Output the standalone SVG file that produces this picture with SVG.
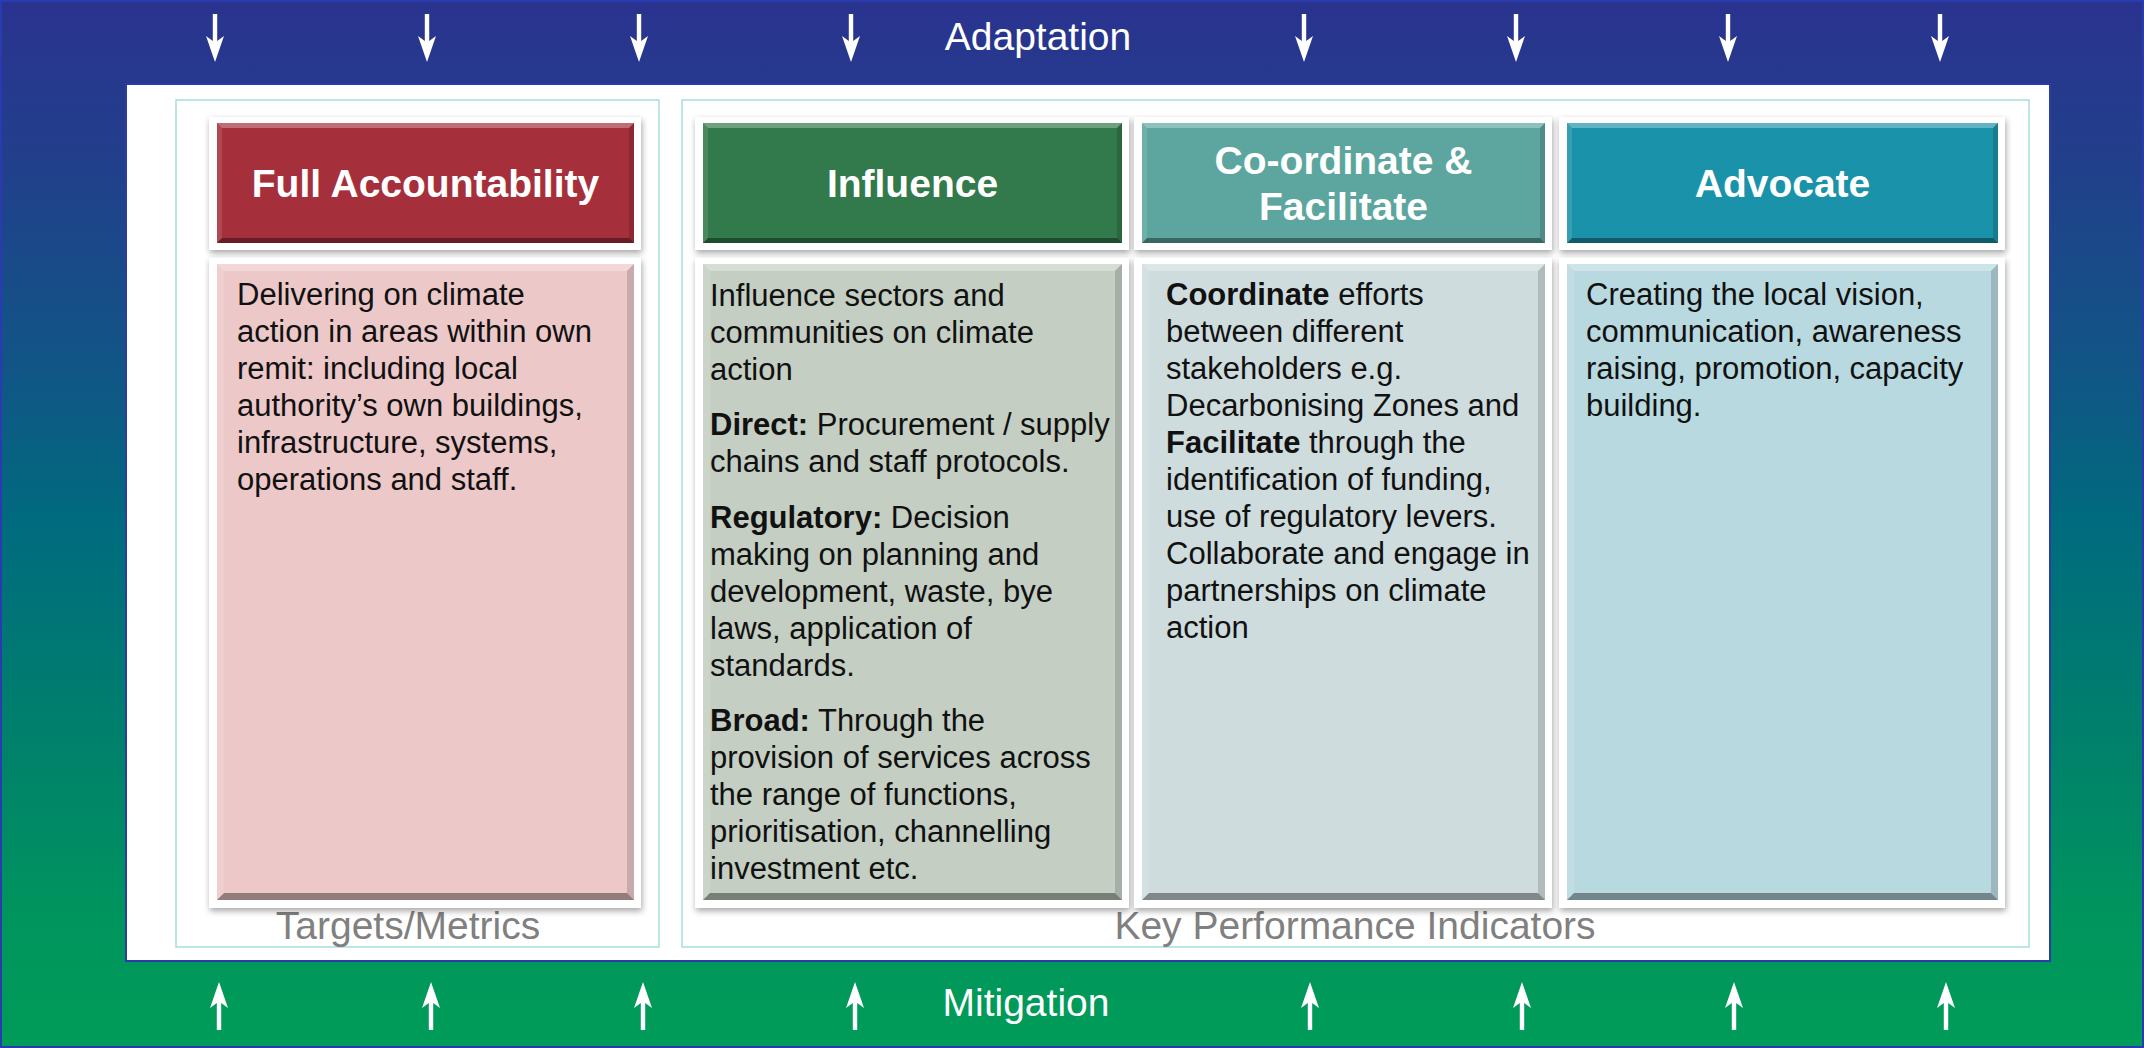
<svg xmlns="http://www.w3.org/2000/svg" xmlns:xlink="http://www.w3.org/1999/xlink" width="2144" height="1048" viewBox="0 0 2144 1048">
<defs>
  <linearGradient id="bg" x1="0" y1="0" x2="0" y2="1">
    <stop offset="0" stop-color="#2a338f"/>
    <stop offset="0.15" stop-color="#223f8b"/>
    <stop offset="0.35" stop-color="#115586"/>
    <stop offset="0.5" stop-color="#006b7e"/>
    <stop offset="0.7" stop-color="#00806c"/>
    <stop offset="0.88" stop-color="#00955d"/>
    <stop offset="1" stop-color="#009c58"/>
  </linearGradient>
  <filter id="shadow" x="-5%" y="-5%" width="110%" height="110%">
    <feDropShadow dx="1" dy="3" stdDeviation="3" flood-color="#000" flood-opacity="0.35"/>
  </filter>
  <path id="adown" d="M-2.2,0 H2.2 V27 L9,22 L0,48 L-9,22 L-2.2,27 Z" fill="#fff"/>
  <style>
    .frame{fill:#fff;filter:url(#shadow);}
    .hl{fill:#fff;opacity:.3;}
    .sh{fill:#000;opacity:.38;}
    .lf{fill:#fff;opacity:.12;}
    .rt{fill:#000;opacity:.15;}
    .hdr{font-family:"Liberation Sans",Arial,sans-serif;font-weight:bold;font-size:39px;fill:#fff;text-anchor:middle;}
    .body{font-family:"Liberation Sans",Arial,sans-serif;font-size:31px;fill:#111;}
    .b{font-weight:bold;}
    .band{font-family:"Liberation Sans",Arial,sans-serif;font-size:39px;fill:#fff;text-anchor:middle;}
    .kpi{font-family:"Liberation Sans",Arial,sans-serif;font-size:39px;fill:#808080;text-anchor:middle;}
    .tframe{fill:none;stroke:#a6dede;stroke-width:1.5;}
  </style>
</defs>

<rect x="0" y="0" width="2144" height="1048" fill="url(#bg)"/>
<rect x="1" y="1" width="2142" height="1046" fill="none" stroke="#2a3ab0" stroke-width="2"/>

<text class="band" x="1038" y="50">Adaptation</text>
<text class="band" x="1026" y="1016">Mitigation</text>

<rect x="126" y="84" width="1924" height="877" fill="#fff" stroke="#2b3ca8" stroke-width="2"/>

<rect class="tframe" x="176" y="100" width="483" height="847"/>
<rect class="tframe" x="682" y="100" width="1347" height="847"/>

<text class="kpi" x="408" y="939">Targets/Metrics</text>
<text class="kpi" x="1355" y="939">Key Performance Indicators</text>

<g id="connectors">
  <use xlink:href="#adown" x="215" y="14"/>
  <use xlink:href="#adown" x="427" y="14"/>
  <use xlink:href="#adown" x="639" y="14"/>
  <use xlink:href="#adown" x="851" y="14"/>
  <use xlink:href="#adown" x="1304" y="14"/>
  <use xlink:href="#adown" x="1516" y="14"/>
  <use xlink:href="#adown" x="1728" y="14"/>
  <use xlink:href="#adown" x="1940" y="14"/>
  <use xlink:href="#adown" transform="translate(219,1030) scale(1,-1)"/>
  <use xlink:href="#adown" transform="translate(431,1030) scale(1,-1)"/>
  <use xlink:href="#adown" transform="translate(643,1030) scale(1,-1)"/>
  <use xlink:href="#adown" transform="translate(855,1030) scale(1,-1)"/>
  <use xlink:href="#adown" transform="translate(1310,1030) scale(1,-1)"/>
  <use xlink:href="#adown" transform="translate(1522,1030) scale(1,-1)"/>
  <use xlink:href="#adown" transform="translate(1734,1030) scale(1,-1)"/>
  <use xlink:href="#adown" transform="translate(1946,1030) scale(1,-1)"/>
</g>

<!-- Headers -->
<g id="hdr-full-accountability">
  <rect class="frame" x="209" y="117" width="432" height="133"/>
  <rect x="217" y="123" width="417" height="120" fill="#a62f3c"/>
  <polygon class="hl" points="217,123 634,123 629,128 222,128"/>
  <polygon class="sh" points="217,243 634,243 629,238 222,238"/>
  <polygon class="lf" points="217,123 222,128 222,238 217,243"/>
  <polygon class="rt" points="634,123 629,128 629,238 634,243"/>
  <text class="hdr" x="425.5" y="197">Full Accountability</text>
</g>
<g id="hdr-influence">
  <rect class="frame" x="695" y="117" width="434" height="133"/>
  <rect x="703" y="123" width="419" height="120" fill="#32794b"/>
  <polygon class="hl" points="703,123 1122,123 1117,128 708,128"/>
  <polygon class="sh" points="703,243 1122,243 1117,238 708,238"/>
  <polygon class="lf" points="703,123 708,128 708,238 703,243"/>
  <polygon class="rt" points="1122,123 1117,128 1117,238 1122,243"/>
  <text class="hdr" x="912.5" y="197">Influence</text>
</g>
<g id="hdr-coordinate">
  <rect class="frame" x="1134" y="117" width="418" height="133"/>
  <rect x="1142" y="123" width="403" height="120" fill="#5ca69f"/>
  <polygon class="hl" points="1142,123 1545,123 1540,128 1147,128"/>
  <polygon class="sh" points="1142,243 1545,243 1540,238 1147,238"/>
  <polygon class="lf" points="1142,123 1147,128 1147,238 1142,243"/>
  <polygon class="rt" points="1545,123 1540,128 1540,238 1545,243"/>
  <text class="hdr" x="1343.5" y="174">Co-ordinate &amp;</text>
  <text class="hdr" x="1343.5" y="220">Facilitate</text>
</g>
<g id="hdr-advocate">
  <rect class="frame" x="1559" y="117" width="446" height="133"/>
  <rect x="1567" y="123" width="431" height="120" fill="#1a92aa"/>
  <polygon class="hl" points="1567,123 1998,123 1993,128 1572,128"/>
  <polygon class="sh" points="1567,243 1998,243 1993,238 1572,238"/>
  <polygon class="lf" points="1567,123 1572,128 1572,238 1567,243"/>
  <polygon class="rt" points="1998,123 1993,128 1993,238 1998,243"/>
  <text class="hdr" x="1782.5" y="197">Advocate</text>
</g>

<!-- Bodies -->
<g id="body-full-accountability">
  <rect class="frame" x="209" y="258" width="432" height="650"/>
  <rect x="217" y="264" width="417" height="636" fill="#ecc8c8"/>
  <polygon class="hl" points="217,264 634,264 627,271 224,271"/>
  <polygon class="sh" points="217,900 634,900 627,893 224,893"/>
  <polygon class="lf" points="217,264 224,271 224,893 217,900"/>
  <polygon class="rt" points="634,264 627,271 627,893 634,900"/>
  <text class="body">
    <tspan x="237" y="305">Delivering on climate</tspan>
    <tspan x="237" y="342">action in areas within own</tspan>
    <tspan x="237" y="379">remit: including local</tspan>
    <tspan x="237" y="416">authority’s own buildings,</tspan>
    <tspan x="237" y="453">infrastructure, systems,</tspan>
    <tspan x="237" y="490">operations and staff.</tspan>
  </text>
</g>
<g id="body-influence">
  <rect class="frame" x="695" y="258" width="434" height="650"/>
  <rect x="703" y="264" width="419" height="636" fill="#c4cec2"/>
  <polygon class="hl" points="703,264 1122,264 1115,271 710,271"/>
  <polygon class="sh" points="703,900 1122,900 1115,893 710,893"/>
  <polygon class="lf" points="703,264 710,271 710,893 703,900"/>
  <polygon class="rt" points="1122,264 1115,271 1115,893 1122,900"/>
  <text class="body">
    <tspan x="710" y="306">Influence sectors and</tspan>
    <tspan x="710" y="343">communities on climate</tspan>
    <tspan x="710" y="380">action</tspan>
    <tspan x="710" y="435"><tspan class="b">Direct:</tspan> Procurement / supply</tspan>
    <tspan x="710" y="472">chains and staff protocols.</tspan>
    <tspan x="710" y="528"><tspan class="b">Regulatory:</tspan> Decision</tspan>
    <tspan x="710" y="565">making on planning and</tspan>
    <tspan x="710" y="602">development, waste, bye</tspan>
    <tspan x="710" y="639">laws, application of</tspan>
    <tspan x="710" y="676">standards.</tspan>
    <tspan x="710" y="731"><tspan class="b">Broad:</tspan> Through the</tspan>
    <tspan x="710" y="768">provision of services across</tspan>
    <tspan x="710" y="805">the range of functions,</tspan>
    <tspan x="710" y="842">prioritisation, channelling</tspan>
    <tspan x="710" y="879">investment etc.</tspan>
  </text>
</g>
<g id="body-coordinate">
  <rect class="frame" x="1134" y="258" width="418" height="650"/>
  <rect x="1142" y="264" width="403" height="636" fill="#cfdcdd"/>
  <polygon class="hl" points="1142,264 1545,264 1538,271 1149,271"/>
  <polygon class="sh" points="1142,900 1545,900 1538,893 1149,893"/>
  <polygon class="lf" points="1142,264 1149,271 1149,893 1142,900"/>
  <polygon class="rt" points="1545,264 1538,271 1538,893 1545,900"/>
  <text class="body">
    <tspan x="1166" y="305"><tspan class="b">Coordinate</tspan> efforts</tspan>
    <tspan x="1166" y="342">between different</tspan>
    <tspan x="1166" y="379">stakeholders e.g.</tspan>
    <tspan x="1166" y="416">Decarbonising Zones and</tspan>
    <tspan x="1166" y="453"><tspan class="b">Facilitate</tspan> through the</tspan>
    <tspan x="1166" y="490">identification of funding,</tspan>
    <tspan x="1166" y="527">use of regulatory levers.</tspan>
    <tspan x="1166" y="564">Collaborate and engage in</tspan>
    <tspan x="1166" y="601">partnerships on climate</tspan>
    <tspan x="1166" y="638">action</tspan>
  </text>
</g>
<g id="body-advocate">
  <rect class="frame" x="1559" y="258" width="446" height="650"/>
  <rect x="1567" y="264" width="431" height="636" fill="#b8d9e0"/>
  <polygon class="hl" points="1567,264 1998,264 1991,271 1574,271"/>
  <polygon class="sh" points="1567,900 1998,900 1991,893 1574,893"/>
  <polygon class="lf" points="1567,264 1574,271 1574,893 1567,900"/>
  <polygon class="rt" points="1998,264 1991,271 1991,893 1998,900"/>
  <text class="body">
    <tspan x="1586" y="305">Creating the local vision,</tspan>
    <tspan x="1586" y="342">communication, awareness</tspan>
    <tspan x="1586" y="379">raising, promotion, capacity</tspan>
    <tspan x="1586" y="416">building.</tspan>
  </text>
</g>
</svg>
